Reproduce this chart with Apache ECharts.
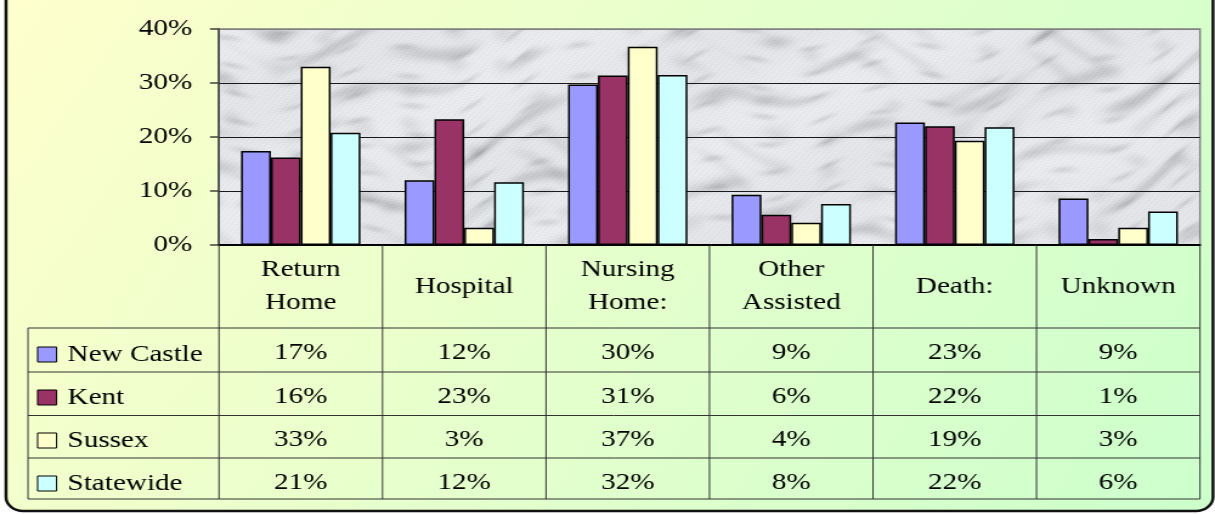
<!DOCTYPE html>
<html>
<head>
<meta charset="utf-8">
<script src="https://cdn.jsdelivr.net/npm/echarts@6/dist/echarts.min.js"></script>
<style>
  html, body { margin: 0; padding: 0; background: #fff; overflow: hidden; }
  /* the original picture is stretched sideways, so the chart is drawn narrow and widened */
  #main { width: 1000px; height: 514px; transform: scaleX(1.215); transform-origin: 0 0; }
</style>
</head>
<body>
<div id="main"></div>
<script>
const SX = 1.215
const X = px => px / SX  // screen px -> chart px

const categories = ['Return\nHome', 'Hospital', 'Nursing\nHome:', 'Other\nAssisted', 'Death:', 'Unknown']
const seriesNames = ['New Castle', 'Kent', 'Sussex', 'Statewide']
const newCastle = [17.4, 12.0, 29.7, 9.3, 22.7, 8.6]
const kent = [16.2, 23.3, 31.4, 5.6, 22.0, 1.1]
const sussex = [33.0, 3.2, 36.7, 4.1, 19.3, 3.2]
const statewide = [20.8, 11.6, 31.5, 7.6, 21.8, 6.2]
const yTicks = [0, 10, 20, 30, 40]

const colors = ['#9999FF', '#993366', '#FFFFCC', '#CCFFFF']
const FONT = "'Liberation Serif', 'Times New Roman', serif"

// soft grey marble texture for the plot area
function marbleCanvas() {
  const w = 1000, h = 260
  const c = document.createElement('canvas')
  c.width = w; c.height = h
  const g = c.getContext('2d')
  const img = g.createImageData(w, h)
  for (let y = 0; y < h; y++) {
    for (let x = 0; x < w; x++) {
      const a = x - 0.35 * y   // along the veins
      const b = 0.35 * x + y   // across the veins
      const warp = 2.0 * Math.sin(a * 0.013 + 0.7) + 1.3 * Math.sin(a * 0.037 + b * 0.021)
      const n1 = Math.sin(b * 0.11 + warp) * Math.sin(a * 0.028 + 1.6 * Math.sin(b * 0.047))
      const n2 = Math.sin(b * 0.23 + 1.7 * warp + 0.9) * Math.sin(a * 0.061 + b * 0.013 + 2.2)
      const blot = Math.sin(x * 0.083 + 2 * Math.sin(y * 0.061)) * Math.sin(y * 0.097 + 2 * Math.sin(x * 0.045 + 1.1))
      const grain = 5 * Math.sin(x * 0.93 + y * 1.71) * Math.sin(y * 0.67 - x * 0.41)
      let gray = 235 - 30 * Math.pow(Math.max(0, n1), 3) - 22 * Math.pow(Math.max(0, n2), 4)
        - 14 * Math.pow(Math.max(0, blot), 2) - 6 * (0.5 + 0.5 * Math.sin(a * 0.009 + b * 0.035)) + grain
      gray = Math.max(165, Math.min(244, gray))
      const i = (y * w + x) * 4
      img.data[i] = gray - 2
      img.data[i + 1] = gray - 1
      img.data[i + 2] = gray + 2
      img.data[i + 3] = 255
    }
  }
  g.putImageData(img, 0, 0)
  return c
}

const chart = echarts.init(document.getElementById('main'), null, { renderer: 'canvas' })

const gridL = X(219), gridR = X(1200), gridT = 29, gridB = 245
const colW = (gridR - gridL) / categories.length
const rowLines = [328, 372, 415.5, 458, 499]
const rowCenters = [353, 396.5, 439.5, 482.5]
const allValues = [newCastle, kent, sussex, statewide]

const graphics = [{
  type: 'rect',
  z: -10,
  shape: { x: X(6), y: -40, width: X(1213) - X(6), height: 511 + 40, r: 14 },
  style: {
    fill: new echarts.graphic.LinearGradient(0, 0, 1, 1, [
      { offset: 0, color: '#FFFFCC' },
      { offset: 1, color: '#CCFFCC' },
    ]),
    stroke: '#111',
    lineWidth: 2.5,
  },
}]

// data table grid
for (let i = 0; i <= categories.length; i++) {
  const x = gridL + i * colW
  graphics.push({ type: 'line', z: 10, shape: { x1: x, y1: gridB, x2: x, y2: 499 }, style: { stroke: '#333', lineWidth: 1 } })
}
graphics.push({ type: 'line', z: 10, shape: { x1: X(28), y1: 328, x2: X(28), y2: 499 }, style: { stroke: '#333', lineWidth: 1 } })
rowLines.forEach(y => {
  graphics.push({ type: 'line', z: 10, shape: { x1: X(28), y1: y, x2: gridR, y2: y }, style: { stroke: '#333', lineWidth: 1 } })
})

// table values
allValues.forEach((vals, s) => {
  vals.forEach((v, i) => {
    graphics.push({
      type: 'text', z: 10,
      x: gridL + (i + 0.5) * colW, y: rowCenters[s],
      style: { text: Math.round(v) + '%', font: '24px ' + FONT, fill: '#000', align: 'center', verticalAlign: 'middle' },
    })
  })
})

chart.setOption({
  animation: false,
  backgroundColor: 'transparent',
  grid: {
    left: gridL, right: 1000 - gridR, top: gridT, bottom: 514 - gridB,
    show: true,
    backgroundColor: { image: marbleCanvas(), repeat: 'repeat' },
    borderColor: '#808080',
    borderWidth: 1.5,
  },
  legend: {
    orient: 'vertical',
    left: X(37), top: 342.5, height: 200,
    padding: 0,
    itemWidth: X(19), itemHeight: 15, itemGap: 19,
    icon: 'rect',
    itemStyle: { borderColor: '#000', borderWidth: 1 },
    textStyle: { fontFamily: FONT, fontSize: 24, color: '#000', padding: [0, 0, 0, 4] },
    data: seriesNames,
  },
  xAxis: {
    type: 'category',
    data: categories,
    axisLine: { lineStyle: { color: '#000', width: 2 } },
    axisTick: { show: false },
    axisLabel: {
      interval: 0, margin: 41.5, verticalAlign: 'middle',
      fontFamily: FONT, fontSize: 24, lineHeight: 33, color: '#000',
    },
  },
  yAxis: {
    type: 'value',
    min: yTicks[0], max: yTicks[yTicks.length - 1], interval: 10,
    axisLine: { show: true, lineStyle: { color: '#404040', width: 1.5 } },
    axisTick: { show: true, length: X(9), lineStyle: { color: '#404040', width: 1.5 } },
    axisLabel: { formatter: '{value}%', margin: 22, fontFamily: FONT, fontSize: 24, color: '#000' },
    splitLine: { lineStyle: { color: ['#1a1a1a', '#1a1a1a', '#1a1a1a', '#1a1a1a', '#808080'], width: 1.2 } },
  },
  series: seriesNames.map((name, k) => ({
    name,
    type: 'bar',
    data: allValues[k],
    barGap: '0%',
    barCategoryGap: '27%',
    itemStyle: { color: colors[k], borderColor: '#000', borderWidth: 1.5 },
  })),
  graphic: graphics,
})
</script>
</body>
</html>
